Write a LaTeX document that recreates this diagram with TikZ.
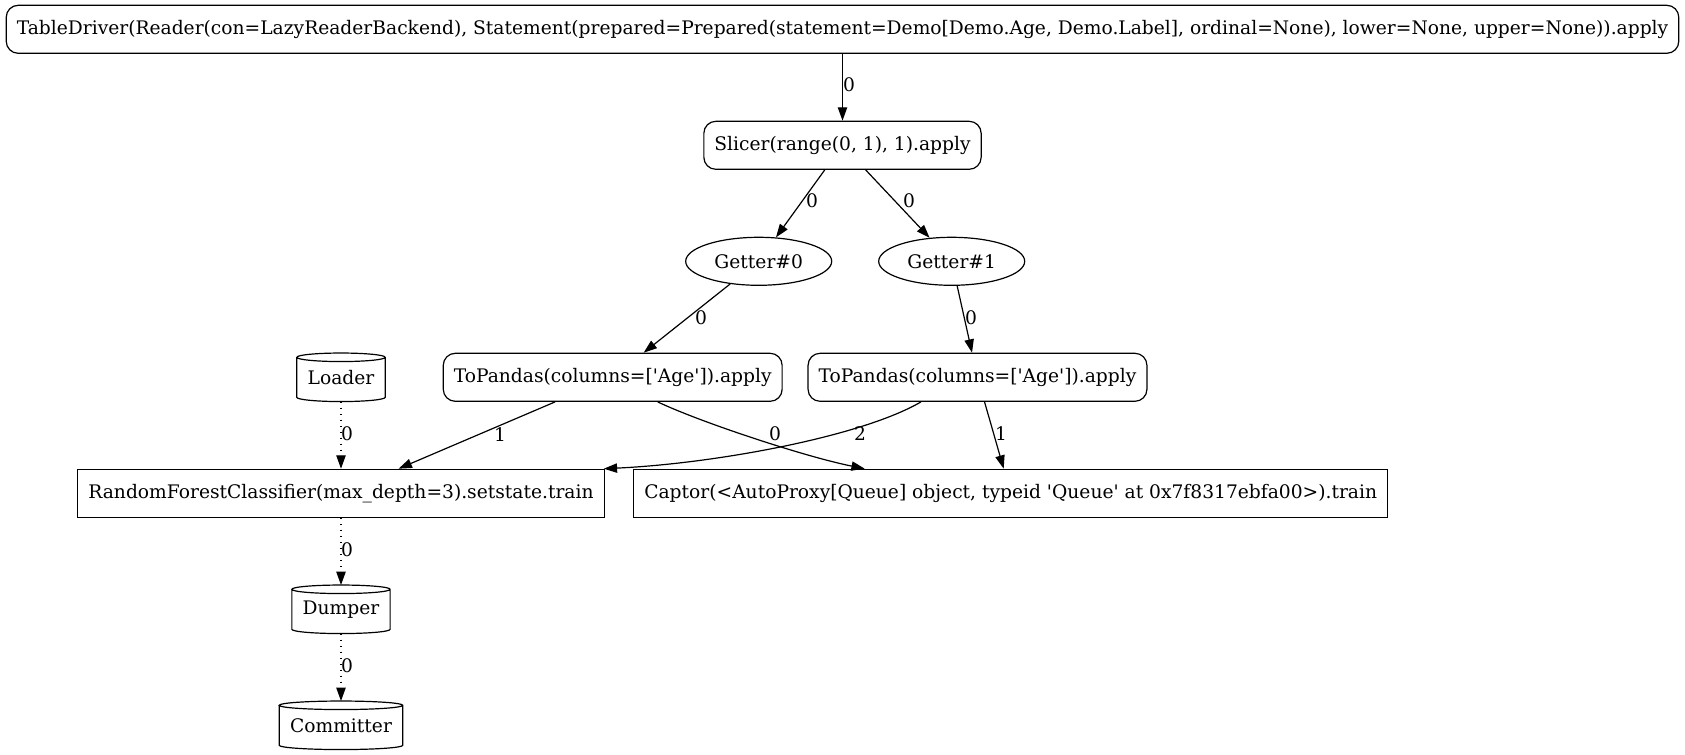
\documentclass[tikz,border=0pt]{standalone}
\usepackage{fontspec}
\setmainfont{DejaVu Serif}
\usetikzlibrary{arrows.meta,calc,shapes.geometric}
\newcommand\cylout[1]{%
  \draw[line width=0.9pt] let \p1=(#1.north west), \p2=(#1.south east), \n1={(\x2-\x1)/2} in
    (\x1,\y1-3.2pt) -- (\x1,\y2+3.2pt)
    arc[start angle=180,end angle=360,x radius=\n1,y radius=3.2pt]
    -- (\x2,\y1-3.2pt)
    arc[start angle=0,end angle=360,x radius=\n1,y radius=3.2pt];}
\newcommand\sq{\textquotesingle}
\begin{document}
\begin{tikzpicture}[x=0.75pt,y=-0.75pt,
  every node/.style={font=\fontsize{14pt}{16pt}\selectfont},
  base/.style={draw, line width=0.9pt, minimum height=36pt, inner xsep=7.92pt, inner ysep=0pt, anchor=center},
  rbox/.style={base, rounded corners=9pt},
  sbox/.style={base},
  oval/.style={base, ellipse, inner sep=0pt, minimum width=109.5pt},
  cyl/.style={minimum height=36pt, inner xsep=7.92pt, inner ysep=0pt, anchor=center},
  edge/.style={line width=0.9pt, -{Triangle[length=10pt,width=7pt]}},
  dedge/.style={edge, dash pattern=on 1pt off 3.5pt},
  lbl/.style={inner sep=0pt}
]
\useasboundingbox (0,0) rectangle (1685,755);

\node[rbox] (top) at (842.5,29.3) {TableDriver(Reader(con=LazyReaderBackend), Statement(prepared=Prepared(statement=Demo[Demo.Age, Demo.Label], ordinal=None), lower=None, upper=None)).apply};
\node[rbox] (slicer) at (842.5,145.3) {Slicer(range(0, 1), 1).apply};
\node[oval] (g0) at (758.7,261.3) {Getter\#0};
\node[oval] (g1) at (951.7,261.3) {Getter\#1};
\node[cyl] (loader) at (341,377.3) {Loader};
\node[rbox] (tpl) at (612.7,377.3) {ToPandas(columns=[\sq Age\sq]).apply};
\node[rbox] (tpr) at (977.5,377.3) {ToPandas(columns=[\sq Age\sq]).apply};
\node[sbox] (rf) at (341,493.3) {RandomForestClassifier(max\_depth=3).setstate.train};
\node[sbox] (captor) at (1010.7,493.3) {Captor(<AutoProxy[Queue] object, typeid \sq Queue\sq{} at 0x7f8317ebfa00>).train};
\node[cyl] (dumper) at (341,609.3) {Dumper};
\node[cyl] (committer) at (341,725.3) {Committer};
\cylout{loader}
\cylout{dumper}
\cylout{committer}

\draw[edge] (top) -- (slicer);
\draw[edge] (slicer) -- (g0);
\draw[edge] (slicer) -- (g1);
\draw[edge] (g0) -- (tpl);
\draw[edge] (g1) -- (tpr);
\draw[dedge] (loader) -- (rf);
\draw[edge] (tpl) -- (rf);
\draw[edge] ($(tpl.south)+(45,0)$) .. controls +(42,20) and +(-60,-12) .. ($(captor.north)+(-146,0)$);
\draw[edge] ($(tpr.south)+(-56.5,0)$) .. controls +(-60,35) and +(110,-5) .. ($(rf.north east)+(-1,0)$);
\draw[edge] (tpr) -- (captor);
\draw[dedge] (rf) -- (dumper);
\draw[dedge] (dumper) -- (committer);

\node[lbl] (l1) at (849,85) {0};
\node[lbl] (l2) at (812,201) {0};
\node[lbl] (l3) at (909,201) {0};
\node[lbl] (l4) at (701,318) {0};
\node[lbl] (l5) at (971,318) {0};
\node[lbl] (l6) at (347,434) {0};
\node[lbl] (l7) at (500,435) {1};
\node[lbl] (l8) at (775,434) {0};
\node[lbl] (l9) at (860,434) {2};
\node[lbl] (l10) at (1001,434) {1};
\node[lbl] (l11) at (347,550) {0};
\node[lbl] (l12) at (347,666) {0};
\end{tikzpicture}
\end{document}
